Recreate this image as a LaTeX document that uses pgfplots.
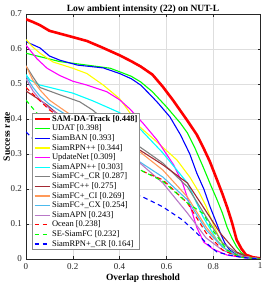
\documentclass[border=0pt]{standalone}
\usepackage{pgfplots}
\pgfplotsset{compat=1.18}
\usepackage{fontspec}
\setmainfont{Liberation Serif}
\definecolor{cRed}{rgb}{1,0,0}
\definecolor{cGreen}{rgb}{0,1,0}
\definecolor{cBlue}{rgb}{0,0,1}
\definecolor{cYellow}{rgb}{1,1,0}
\definecolor{cMag}{rgb}{1,0,1}
\definecolor{cCyan}{rgb}{0,1,1}
\definecolor{cGray}{rgb}{0.5,0.5,0.5}
\definecolor{cDRed}{rgb}{0.64,0.16,0.2}
\definecolor{cOrange}{rgb}{1,0.6,0.35}
\definecolor{cLBlue}{rgb}{0.3,0.73,0.93}
\definecolor{cPurple}{rgb}{0.72,0.47,0.78}
\definecolor{axgray}{rgb}{0.15,0.15,0.15}
\begin{document}
\begin{tikzpicture}
\useasboundingbox (0,0) rectangle (266pt,283pt);
\begin{axis}[
  at={(26pt,24pt)}, anchor=south west,
  scale only axis, width=234pt, height=245pt,
  xmin=0, xmax=1, ymin=0, ymax=0.7,
  xtick={0,0.2,0.4,0.6,0.8,1},
  ytick={0,0.1,0.2,0.3,0.4,0.5,0.6,0.7},
  xticklabels={0,0.2,0.4,0.6,0.8,1},
  yticklabels={0,0.1,0.2,0.3,0.4,0.5,0.6,0.7},
  tick align=inside, tickpos=both, major tick length=2.5pt,
  grid=major, grid style={line width=0.4pt, color=black!13},
  axis line style={color=axgray, line width=0.5pt},
  every tick/.style={color=axgray, line width=0.5pt},
  tick label style={font=\fontsize{9}{10}\selectfont, color=axgray},
  /pgf/number format/assume math mode=true,
  xticklabel style={yshift=-0.5pt},
  yticklabel style={xshift=-0.5pt},
  title={\textbf{Low ambient intensity (22) on NUT-L}},
  title style={at={(axis description cs:0.5,1)}, anchor=base, yshift=-3pt, inner sep=0pt, font=\fontsize{9.5}{10}\selectfont},
  xlabel={\textbf{Overlap threshold}},
  xlabel style={at={(axis description cs:0.5,0)}, anchor=base, yshift=-22pt, inner sep=0pt, font=\fontsize{9.5}{10}\selectfont},
  ylabel={\textbf{Success rate}},
  ylabel style={at={(axis description cs:-0.0684,0.5)}, anchor=base, inner sep=0pt, font=\fontsize{9.5}{10}\selectfont},
  legend cell align=left,
  legend style={at={(0.0256,0.5947)}, anchor=north west,
    draw=black!45, line width=0.5pt, fill=white,
    inner xsep=1pt, inner ysep=0.8pt,
    font=\fontsize{8.5}{9}\selectfont,
    nodes={inner xsep=1.2pt, inner ysep=0.6pt, text height=6.3pt, text depth=2.1pt}},
  legend image code/.code={\draw[#1] (0pt,0pt) -- (15pt,0pt);},
  every axis plot/.append style={line width=1.1pt, line join=round},
]
\addplot[cRed, line width=2.6pt] coordinates {(0,0.685)(0.03,0.677)(0.06,0.668)(0.1,0.652)(0.15,0.643)(0.2,0.634)(0.26,0.623)(0.32,0.606)(0.4,0.582)(0.45,0.565)(0.49,0.55)(0.54,0.527)(0.585,0.492)(0.63,0.452)(0.69,0.395)(0.73,0.355)(0.76,0.315)(0.786,0.278)(0.81,0.237)(0.84,0.185)(0.86,0.147)(0.88,0.105)(0.90,0.055)(0.92,0.03)(0.94,0.012)(0.97,0.005)(1,0.002)};
\addlegendentry{\textbf{SAM-DA-Track [0.448]}}
\addplot[cGreen] coordinates {(0,0.588)(0.06,0.578)(0.145,0.564)(0.26,0.554)(0.36,0.545)(0.40,0.535)(0.45,0.522)(0.49,0.506)(0.54,0.478)(0.6,0.435)(0.66,0.388)(0.69,0.36)(0.72,0.32)(0.757,0.263)(0.79,0.21)(0.816,0.17)(0.84,0.13)(0.86,0.09)(0.88,0.06)(0.90,0.035)(0.92,0.018)(0.94,0.007)(0.97,0.003)(1,0.001)};
\addlegendentry{UDAT [0.398]}
\addplot[cBlue] coordinates {(0,0.621)(0.03,0.612)(0.06,0.603)(0.1,0.58)(0.145,0.568)(0.22,0.554)(0.33,0.546)(0.4,0.53)(0.45,0.515)(0.49,0.497)(0.54,0.463)(0.565,0.445)(0.615,0.406)(0.66,0.355)(0.7,0.3)(0.73,0.245)(0.76,0.2)(0.786,0.15)(0.81,0.11)(0.83,0.075)(0.85,0.045)(0.87,0.026)(0.9,0.012)(0.93,0.006)(1,0.001)};
\addlegendentry{SiamBAN [0.393]}
\addplot[cYellow] coordinates {(0,0.627)(0.03,0.605)(0.06,0.588)(0.115,0.563)(0.2,0.545)(0.26,0.53)(0.33,0.497)(0.4,0.458)(0.445,0.417)(0.487,0.377)(0.55,0.34)(0.6,0.31)(0.645,0.283)(0.70,0.234)(0.74,0.19)(0.77,0.15)(0.80,0.1)(0.83,0.054)(0.85,0.03)(0.87,0.017)(0.9,0.008)(0.95,0.003)(1,0.001)};
\addlegendentry{SiamRPN++ [0.344]}
\addplot[cMag] coordinates {(0,0.611)(0.025,0.59)(0.047,0.572)(0.09,0.545)(0.145,0.524)(0.2,0.508)(0.26,0.497)(0.345,0.478)(0.4,0.455)(0.445,0.428)(0.5,0.388)(0.56,0.34)(0.6,0.3)(0.63,0.27)(0.67,0.215)(0.70,0.155)(0.73,0.09)(0.76,0.048)(0.8,0.028)(0.86,0.011)(0.94,0.003)(1,0)};
\addlegendentry{UpdateNet [0.309]}
\addplot[cCyan] coordinates {(0,0.527)(0.017,0.511)(0.06,0.497)(0.115,0.488)(0.2,0.474)(0.285,0.452)(0.36,0.43)(0.4,0.418)(0.487,0.372)(0.585,0.303)(0.69,0.217)(0.757,0.12)(0.816,0.054)(0.87,0.017)(0.92,0.005)(1,0)};
\addlegendentry{SiamAPN++ [0.303]}
\addplot[cGray] coordinates {(0,0.552)(0.03,0.52)(0.06,0.49)(0.145,0.469)(0.23,0.449)(0.286,0.425)(0.345,0.39)(0.4,0.365)(0.487,0.32)(0.585,0.274)(0.69,0.206)(0.77,0.12)(0.84,0.046)(0.9,0.017)(0.95,0.005)(1,0)};
\addlegendentry{SiamFC+\_CR [0.287]}
\addplot[cDRed] coordinates {(0,0.48)(0.046,0.46)(0.09,0.44)(0.13,0.417)(0.2,0.40)(0.3,0.372)(0.4,0.342)(0.487,0.311)(0.585,0.269)(0.69,0.217)(0.757,0.149)(0.83,0.074)(0.9,0.02)(0.95,0.005)(1,0)};
\addlegendentry{SiamFC++ [0.275]}
\addplot[cOrange] coordinates {(0,0.552)(0.03,0.51)(0.06,0.483)(0.1,0.454)(0.16,0.426)(0.2,0.408)(0.3,0.372)(0.4,0.337)(0.487,0.306)(0.585,0.254)(0.69,0.177)(0.77,0.091)(0.84,0.034)(0.9,0.01)(1,0)};
\addlegendentry{SiamFC+\_CI [0.269]}
\addplot[cLBlue] coordinates {(0,0.522)(0.03,0.49)(0.06,0.465)(0.1,0.442)(0.2,0.40)(0.3,0.358)(0.4,0.318)(0.487,0.277)(0.585,0.234)(0.69,0.169)(0.77,0.083)(0.84,0.034)(0.9,0.01)(1,0)};
\addlegendentry{SiamFC+\_CX [0.254]}
\addplot[cPurple] coordinates {(0,0.515)(0.03,0.48)(0.06,0.455)(0.1,0.43)(0.2,0.385)(0.3,0.345)(0.4,0.31)(0.487,0.274)(0.585,0.217)(0.69,0.131)(0.77,0.06)(0.84,0.025)(0.9,0.01)(0.95,0.005)(1,0)};
\addlegendentry{SiamAPN [0.243]}
\addplot[cRed, dash pattern=on 4.5pt off 3.5pt] coordinates {(0,0.49)(0.047,0.46)(0.1,0.426)(0.2,0.38)(0.3,0.33)(0.4,0.29)(0.487,0.254)(0.585,0.226)(0.69,0.16)(0.77,0.074)(0.84,0.026)(0.9,0.008)(1,0)};
\addlegendentry{Ocean [0.238]}
\addplot[cGreen, dash pattern=on 4.5pt off 3.5pt] coordinates {(0,0.454)(0.046,0.417)(0.1,0.39)(0.2,0.35)(0.3,0.32)(0.4,0.285)(0.487,0.255)(0.585,0.222)(0.69,0.16)(0.757,0.13)(0.8,0.08)(0.86,0.025)(0.92,0.005)(1,0)};
\addlegendentry{SE-SiamFC [0.232]}
\addplot[cBlue, dash pattern=on 4.5pt off 3.5pt] coordinates {(0,0.363)(0.05,0.33)(0.1,0.3)(0.2,0.26)(0.3,0.23)(0.4,0.2)(0.5,0.177)(0.585,0.149)(0.67,0.111)(0.73,0.074)(0.77,0.046)(0.816,0.02)(0.87,0.011)(0.93,0.004)(1,0)};
\addlegendentry{SiamRPN+\_CR [0.164]}
\end{axis}
\end{tikzpicture}
\end{document}
